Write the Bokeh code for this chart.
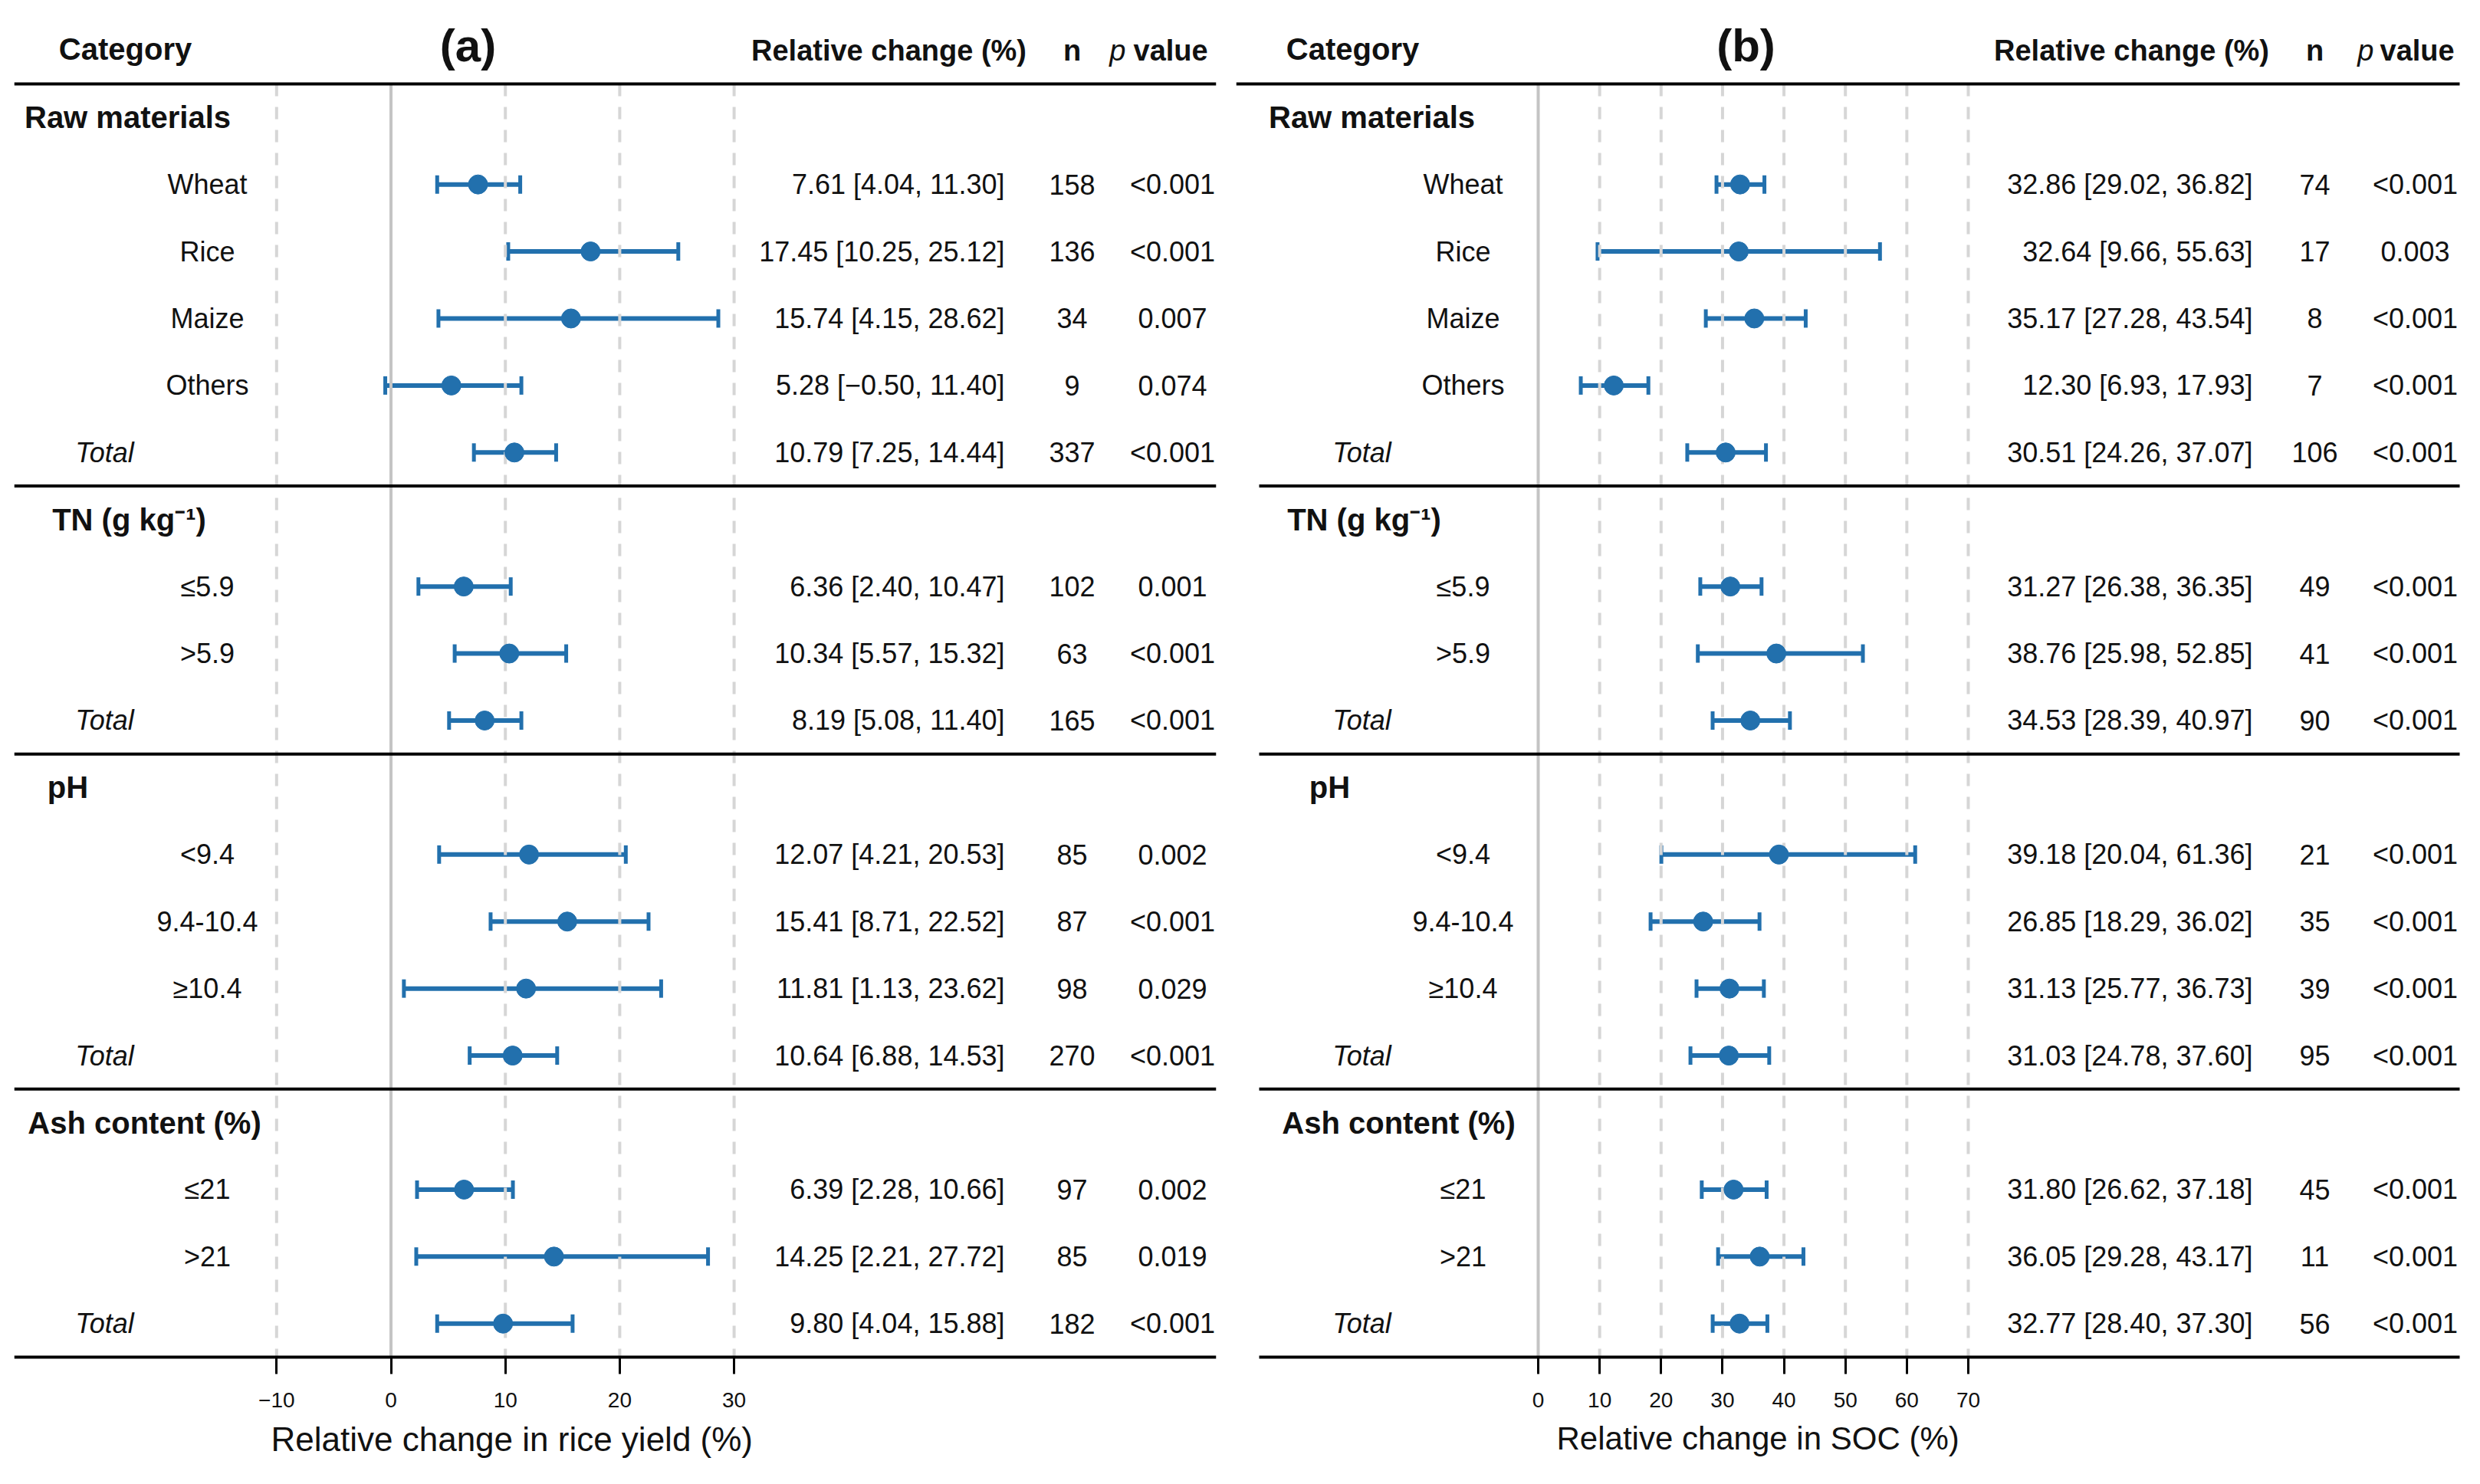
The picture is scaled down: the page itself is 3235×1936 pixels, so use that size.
from bokeh.plotting import figure
from bokeh.layouts import row
from bokeh.models import Range1d, FixedTicker, Whisker, TeeHead, ColumnDataSource, Title
from bokeh.embed import file_html
from bokeh.resources import INLINE
from bokeh.core.properties import value

# ---------------- data ----------------
groups = ["Raw materials", "TN (g kg\u207b\u00b9)", "pH", "Ash content (%)"]
group_sizes = [5, 3, 4, 3]
labels = ["Wheat", "Rice", "Maize", "Others", "Total",
          "\u22645.9", ">5.9", "Total",
          "<9.4", "9.4-10.4", "\u226510.4", "Total",
          "\u226421", ">21", "Total"]

yield_est = [7.61, 17.45, 15.74, 5.28, 10.79, 6.36, 10.34, 8.19, 12.07, 15.41, 11.81, 10.64, 6.39, 14.25, 9.80]
yield_lo = [4.04, 10.25, 4.15, -0.50, 7.25, 2.40, 5.57, 5.08, 4.21, 8.71, 1.13, 6.88, 2.28, 2.21, 4.04]
yield_hi = [11.30, 25.12, 28.62, 11.40, 14.44, 10.47, 15.32, 11.40, 20.53, 22.52, 23.62, 14.53, 10.66, 27.72, 15.88]
yield_n = [158, 136, 34, 9, 337, 102, 63, 165, 85, 87, 98, 270, 97, 85, 182]
yield_p = ["<0.001", "<0.001", "0.007", "0.074", "<0.001", "0.001", "<0.001", "<0.001",
           "0.002", "<0.001", "0.029", "<0.001", "0.002", "0.019", "<0.001"]

soc_est = [32.86, 32.64, 35.17, 12.30, 30.51, 31.27, 38.76, 34.53, 39.18, 26.85, 31.13, 31.03, 31.80, 36.05, 32.77]
soc_lo = [29.02, 9.66, 27.28, 6.93, 24.26, 26.38, 25.98, 28.39, 20.04, 18.29, 25.77, 24.78, 26.62, 29.28, 28.40]
soc_hi = [36.82, 55.63, 43.54, 17.93, 37.07, 36.35, 52.85, 40.97, 61.36, 36.02, 36.73, 37.60, 37.18, 43.17, 37.30]
soc_n = [74, 17, 8, 7, 106, 49, 41, 90, 21, 35, 39, 95, 45, 11, 56]
soc_p = ["<0.001", "0.003", "<0.001", "<0.001", "<0.001", "<0.001", "<0.001", "<0.001",
         "<0.001", "<0.001", "<0.001", "<0.001", "<0.001", "<0.001", "<0.001"]

yield_ticks = [-10, 0, 10, 20, 30]
soc_ticks = [0, 10, 20, 30, 40, 50, 60, 70]

# ---------------- layout helpers ----------------
BLUE = "#2270ad"
FONT = "Liberation Sans"
TXT = "#111111"
ROW_PX = 87.42
TOP_LINE_PX = 109

header_rows, item_rows = [], []
r = 0
for size in group_sizes:
    header_rows.append(r)
    for k in range(size):
        item_rows.append(r + 1 + k)
    r += size + 1
sep_rows = [h - 0.5 for h in header_rows]   # -0.5, 5.5, 9.5, 14.5
last_row = r - 0.5                           # 18.5


def fmt(v):
    return ("%.2f" % v).replace("-", "\u2212")


def make_panel(est, lo, hi, n, p, ticks, panel_letter, axis_title,
               zero_px, ppu, frame_left, frame_right, canvas_left, canvas_w,
               cfg):
    def X(px):
        return (px - zero_px) / ppu

    frame_w = frame_right - frame_left
    mb_left = frame_left - canvas_left
    mb_right = canvas_w - mb_left - frame_w
    frame_h = 1773
    y_bottom = last_row + (frame_h - (TOP_LINE_PX + (last_row + 0.5) * ROW_PX)) / ROW_PX
    y_top = -0.5 - TOP_LINE_PX / ROW_PX
    fig = figure(frame_width=frame_w, frame_height=frame_h,
                 x_range=Range1d(X(frame_left), X(frame_right)),
                 y_range=Range1d(y_bottom, y_top),
                 output_backend="svg", toolbar_location=None,
                 y_axis_location=None, x_axis_location="below", title=None,
                 min_border_left=mb_left, min_border_right=mb_right,
                 min_border_top=0, min_border_bottom=1920 - frame_h,
                 outline_line_color=None, background_fill_color="white",
                 border_fill_color="white")
    fig.grid.visible = False

    # vertical reference lines
    dashed = [t for t in ticks if t != 0]
    fig.segment(x0=dashed, x1=dashed, y0=-0.5, y1=last_row,
                line_color="#d6d6d6", line_width=4, line_dash="16 14")
    fig.segment(x0=[0], x1=[0], y0=-0.5, y1=last_row,
                line_color="#c4c4c4", line_width=4)

    # horizontal rules
    hx0 = [X(cfg["top_line_x0"])] + [X(cfg["line_x0"])] * (len(sep_rows) - 1) + [X(cfg["line_x0"])]
    hy = sep_rows + [last_row]
    fig.segment(x0=hx0, x1=[X(cfg["line_x1"])] * len(hy), y0=hy, y1=hy,
                line_color="black", line_width=4)

    # x axis (line drawn by rule above)
    ax = fig.xaxis[0]
    ax.ticker = FixedTicker(ticks=ticks)
    ax.major_label_overrides = {t: str(t).replace("-", "\u2212") for t in ticks}
    ax.axis_line_color = None
    ax.major_tick_line_color = "black"
    ax.major_tick_line_width = 3
    ax.major_tick_out = 19
    ax.major_tick_in = 3
    ax.minor_tick_out = 0
    ax.minor_tick_in = 0
    ax.major_label_text_font = FONT
    ax.major_label_text_font_size = "28px"
    ax.major_label_text_color = TXT
    ax.major_label_standoff = 24

    fig.add_layout(Title(text=axis_title, align="left",
                         offset=cfg["title_x0"] - frame_left,
                         text_font=FONT, text_font_size=cfg["title_size"], text_font_style="normal",
                         text_color=TXT, standoff=24), "below")

    def txt(xs, ys, texts, size, align="center", bold=False, italic=False, color=TXT):
        style = "normal"
        if bold and italic:
            style = "bold italic"
        elif bold:
            style = "bold"
        elif italic:
            style = "italic"
        fig.text(x=xs, y=ys, text=texts, text_font=value(FONT), text_font_size=value(size),
                 text_align=align, text_baseline="middle", text_color=color,
                 text_font_style=style)

    # column headers
    txt([X(cfg["cat_x"])], [-1.02], ["Category"], "40px", bold=True)
    txt([X(cfg["letter_x"])], [-1.07], [panel_letter], "60px", bold=True)
    txt([X(cfg["rel_hdr_x"])], [-1.0], ["Relative change (%)"], "38px", bold=True)
    txt([X(cfg["n_x"])], [-1.0], ["n"], "38px", bold=True)
    txt([X(cfg["p_hdr_x"])], [-1.0], ["p"], "38px", align="right", italic=True)
    txt([X(cfg["value_hdr_x"])], [-1.0], ["value"], "38px", align="left", bold=True)

    # group headers
    txt([X(px) for px in cfg["group_x"]], header_rows, groups, "40px", bold=True)

    # row labels
    is_total = [lab == "Total" for lab in labels]
    sub_lab = [lab for lab, t in zip(labels, is_total) if not t]
    sub_y = [y for y, t in zip(item_rows, is_total) if not t]
    tot_y = [y for y, t in zip(item_rows, is_total) if t]
    txt([X(cfg["lab_x"])] * len(sub_lab), sub_y, sub_lab, "36px")
    txt([X(cfg["tot_x"])] * len(tot_y), tot_y, ["Total"] * len(tot_y), "36px", italic=True)

    # value columns
    rel = ["%s [%s, %s]" % (fmt(e), fmt(a), fmt(b)) for e, a, b in zip(est, lo, hi)]
    txt([X(cfg["rel_x"])] * len(rel), item_rows, rel, "36px", align="right")
    txt([X(cfg["n_x"])] * len(n), item_rows, [str(v) for v in n], "36px")
    txt([X(cfg["p_x"])] * len(p), item_rows, p, "36px")

    # forest marks
    src = ColumnDataSource(dict(y=item_rows, est=est, lo=lo, hi=hi))
    head = dict(size=24, line_color=BLUE, line_width=5)
    fig.add_layout(Whisker(source=src, base="y", lower="lo", upper="hi", dimension="width",
                           line_color=BLUE, line_width=6,
                           lower_head=TeeHead(**head), upper_head=TeeHead(**head)))
    fig.scatter(x="est", y="y", source=src, size=25, marker="circle",
                fill_color=BLUE, line_color=BLUE)
    return fig


left_cfg = dict(cat_x=163, letter_x=610, rel_hdr_x=1159, n_x=1398, p_hdr_x=1468, value_hdr_x=1478,
                group_x=[166, 168, 88, 188], lab_x=270, tot_x=136, rel_x=1310, p_x=1529,
                top_line_x0=18, line_x0=18, line_x1=1586, title_x0=353, title_size="44px")
right_cfg = dict(cat_x=1764, letter_x=2277, rel_hdr_x=2780, n_x=3019, p_hdr_x=3096, value_hdr_x=3104,
                 group_x=[1789, 1779, 1734, 1824], lab_x=1908, tot_x=1776, rel_x=2938, p_x=3150,
                 top_line_x0=1612, line_x0=1642, line_x1=3208, title_x0=2030, title_size="42px")

p1 = make_panel(yield_est, yield_lo, yield_hi, yield_n, yield_p, yield_ticks, "(a)",
                "Relative change in rice yield (%)",
                zero_px=509.5, ppu=14.92, frame_left=18, frame_right=1586,
                canvas_left=0, canvas_w=1600, cfg=left_cfg)
p2 = make_panel(soc_est, soc_lo, soc_hi, soc_n, soc_p, soc_ticks, "(b)",
                "Relative change in SOC (%)",
                zero_px=2006, ppu=8.014, frame_left=1612, frame_right=3214,
                canvas_left=1600, canvas_w=1619, cfg=right_cfg)

layout = row(p1, p2, spacing=0)
open("out.html", "w").write(file_html(layout, INLINE))
